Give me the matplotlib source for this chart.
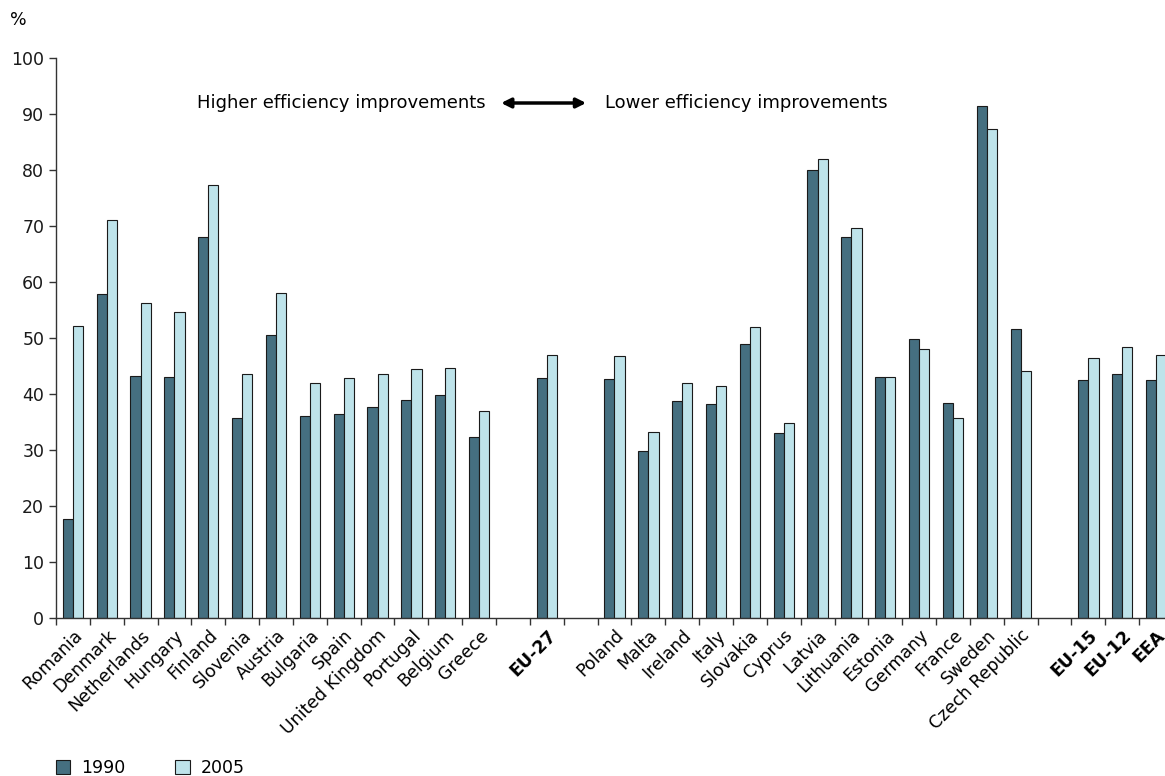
import matplotlib
matplotlib.use("Agg")
import matplotlib.pyplot as plt
import numpy as np

plt.rcParams["font.family"] = ["DejaVu Sans"]

categories = ["Romania", "Denmark", "Netherlands", "Hungary", "Finland", "Slovenia",
              "Austria", "Bulgaria", "Spain", "United Kingdom", "Portugal", "Belgium",
              "Greece", "", "EU-27", "", "Poland", "Malta", "Ireland", "Italy", "Slovakia",
              "Cyprus", "Latvia", "Lithuania", "Estonia", "Germany", "France", "Sweden",
              "Czech Republic", "", "EU-15", "EU-12", "EEA"]
v1990 = [17.6, 57.8, 43.3, 43.0, 68.1, 35.7, 50.5, 36.0, 36.5, 37.6, 38.9, 39.8, 32.4,
         None, 42.8, None, 42.7, 29.8, 38.7, 38.2, 49.0, 33.0, 80.0, 68.1, 43.0, 49.8,
         38.4, 91.4, 51.6, None, 42.5, 43.5, 42.5]
v2005 = [52.2, 71.1, 56.2, 54.6, 77.3, 43.5, 58.1, 41.9, 42.8, 43.5, 44.4, 44.6, 37.0,
         None, 47.0, None, 46.8, 33.3, 41.9, 41.4, 51.9, 34.9, 81.9, 69.7, 43.0, 48.1,
         35.7, 87.3, 44.1, None, 46.5, 48.4, 47.0]
bold_labels = ["EU-27", "EU-15", "EU-12", "EEA"]
series_names = ["1990", "2005"]

c1990 = "#456F80"
c2005 = "#BEE3EA"

fig = plt.figure(figsize=(11.65, 7.76), dpi=100)
ax = fig.add_axes([56 / 1165, 1 - 618 / 776, 1117 / 1165, 560 / 776])

x = np.arange(len(categories))
bw = 0.3
m1 = [i for i, v in enumerate(v1990) if v is not None]
m2 = [i for i, v in enumerate(v2005) if v is not None]
ax.bar(x[m1] - bw / 2, [v1990[i] for i in m1], width=bw, color=c1990,
       edgecolor="#1a1a1a", linewidth=0.8, label=series_names[0])
ax.bar(x[m2] + bw / 2, [v2005[i] for i in m2], width=bw, color=c2005,
       edgecolor="#1a1a1a", linewidth=0.8, label=series_names[1])

ax.set_xlim(-0.5, len(categories) - 0.5)
ax.set_ylim(0, 100)
ax.set_yticks(np.arange(0, 101, 10))
ax.tick_params(axis="y", labelsize=12.5, length=5, width=1, colors="#333333", labelcolor="#1a1a1a")

ax.set_xticks(np.arange(-0.5, len(categories), 1))
ax.set_xticklabels([])
ax.tick_params(axis="x", length=5, width=1, colors="#333333")
ax.set_xticks(x, minor=True)
ax.set_xticklabels(categories, minor=True, rotation=45, ha="right", va="top",
                   rotation_mode="anchor", fontsize=12.5)
ax.tick_params(axis="x", which="minor", length=0, pad=6)
for lab in ax.get_xticklabels(minor=True):
    if lab.get_text() in bold_labels:
        lab.set_fontweight("bold")

for s in ["top", "right"]:
    ax.spines[s].set_visible(False)
for s in ["left", "bottom"]:
    ax.spines[s].set_color("#333333")
    ax.spines[s].set_linewidth(1)

def px2x(px):
    return (px - 56) / 33.84 - 0.5

ya = (618 - 103) / 5.6
ax.text(px2x(486), ya, "Higher efficiency improvements", ha="right", va="center", fontsize=13)
ax.annotate("", xy=(px2x(586), ya), xytext=(px2x(501), ya),
            arrowprops=dict(arrowstyle="<|-|>", color="black", lw=2.5,
                            mutation_scale=14, shrinkA=0, shrinkB=0))
ax.text(px2x(605), ya, "Lower efficiency improvements", ha="left", va="center", fontsize=13)

fig.text(10 / 1165, 1 - 20 / 776, "%", fontsize=12.5, ha="left", va="center")

fig.legend(loc="lower left", bbox_to_anchor=(40 / 1165, -17 / 776), ncol=2, frameon=False,
           fontsize=12.5, handlelength=0.85, handleheight=0.85, columnspacing=2.9,
           handletextpad=0.6)

fig.savefig("out.png", dpi=100)
